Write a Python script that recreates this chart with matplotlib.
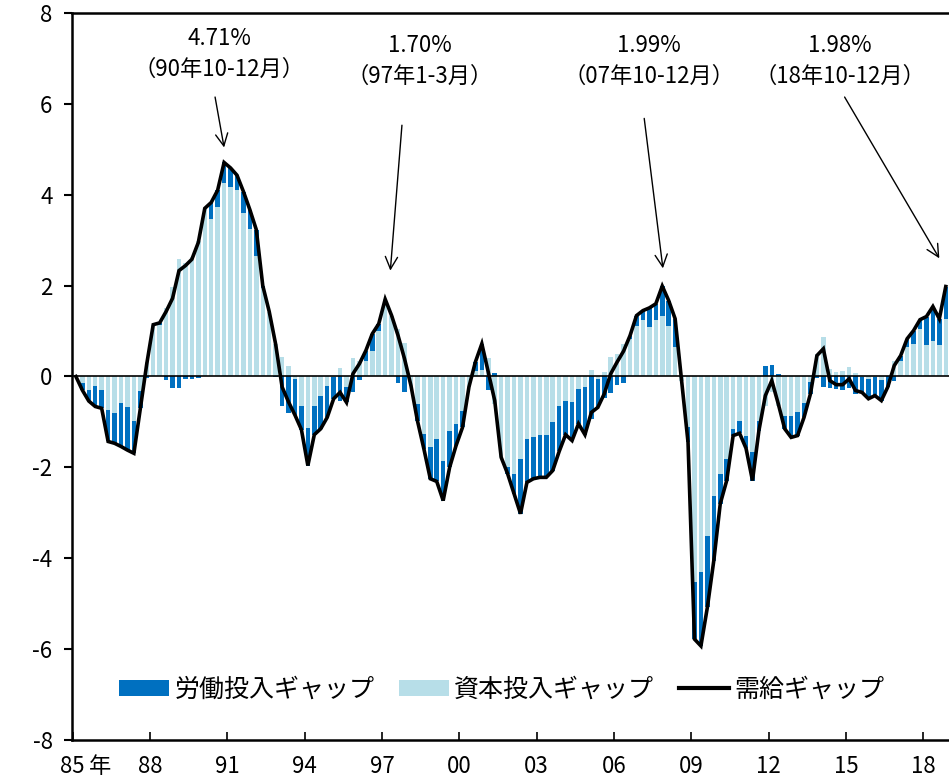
import matplotlib
matplotlib.use("Agg")
import matplotlib.pyplot as plt
from matplotlib.lines import Line2D
from matplotlib.patches import Patch
import numpy as np
import pandas as pd

plt.rcParams["font.family"] = ["Noto Sans CJK JP", "DejaVu Sans"]
plt.rcParams["axes.unicode_minus"] = False

# quarterly, 1985Q1 .. 2018Q4
quarters = pd.period_range("1985Q1", "2018Q4", freq="Q")

# 需給ギャップ (%)
output_gap = [
    0.00, -0.30, -0.54, -0.66, -0.70, -1.43, -1.47, -1.54, -1.62, -1.69,
    -0.70, 0.28, 1.14, 1.18, 1.43, 1.72, 2.33, 2.44, 2.58, 2.95,
    3.70, 3.83, 4.10, 4.71, 4.59, 4.43, 4.07, 3.67, 3.23, 2.00,
    1.43, 0.71, -0.23, -0.56, -0.85, -1.17, -1.96, -1.28, -1.15, -0.90,
    -0.49, -0.35, -0.57, 0.06, 0.28, 0.57, 0.94, 1.16, 1.70, 1.34,
    0.90, 0.39, -0.20, -0.97, -1.59, -2.25, -2.31, -2.73, -2.00, -1.52,
    -1.12, -0.23, 0.32, 0.72, 0.10, -0.53, -1.78, -2.14, -2.58, -3.02,
    -2.33, -2.25, -2.22, -2.22, -2.07, -1.65, -1.28, -1.41, -1.04, -1.28,
    -0.79, -0.68, -0.38, 0.06, 0.32, 0.56, 0.90, 1.34, 1.45, 1.51,
    1.60, 1.99, 1.67, 1.27, -0.10, -1.45, -5.78, -5.93, -5.08, -4.05,
    -2.80, -2.29, -1.30, -1.25, -1.58, -2.29, -1.19, -0.42, -0.09, -0.60,
    -1.15, -1.34, -1.30, -0.90, -0.38, 0.46, 0.61, -0.09, -0.18, -0.18,
    -0.05, -0.31, -0.35, -0.49, -0.42, -0.53, -0.23, 0.24, 0.46, 0.83,
    1.01, 1.25, 1.32, 1.54, 1.27, 1.98,
]

# 資本投入ギャップ
capital_gap = [
    0.00, -0.15, -0.29, -0.22, -0.29, -0.73, -0.81, -0.59, -0.68, -0.99,
    -0.33, 0.32, 1.14, 1.13, 1.50, 1.98, 2.59, 2.49, 2.63, 2.99,
    3.70, 3.47, 3.74, 4.25, 4.17, 4.10, 3.60, 3.24, 2.65, 1.94,
    1.43, 0.72, 0.42, 0.24, -0.05, -0.66, -1.13, -0.65, -0.42, -0.20,
    -0.02, 0.19, -0.23, 0.40, 0.35, 0.35, 0.57, 1.01, 1.70, 1.34,
    1.05, 0.74, -0.20, -0.60, -1.26, -1.56, -1.37, -1.85, -1.21, -1.04,
    -0.75, -0.23, 0.12, 0.15, 0.40, -0.60, -1.78, -1.99, -2.14, -1.81,
    -1.37, -1.34, -1.28, -1.28, -1.00, -0.65, -0.53, -0.57, -0.27, -0.23,
    0.15, -0.05, 0.10, 0.43, 0.50, 0.71, 0.83, 1.12, 1.25, 1.09,
    1.25, 1.33, 1.12, 0.66, -0.10, -1.12, -4.53, -4.31, -3.50, -2.62,
    -2.14, -1.81, -1.15, -0.97, -1.30, -1.67, -0.97, -0.64, -0.35, -0.66,
    -0.86, -0.86, -0.79, -0.59, -0.12, 0.50, 0.87, 0.17, 0.10, 0.11,
    0.20, 0.07, -0.02, -0.05, -0.02, -0.07, 0.00, 0.35, 0.35, 0.65,
    0.72, 1.05, 0.70, 0.79, 0.70, 1.27,
]

# 労働投入ギャップ
labor_gap = [
    0.00, -0.15, -0.25, -0.44, -0.41, -0.70, -0.66, -0.95, -0.94, -0.70,
    -0.37, -0.04, 0.00, 0.05, -0.07, -0.26, -0.26, -0.05, -0.05, -0.04,
    0.00, 0.36, 0.36, 0.46, 0.42, 0.33, 0.47, 0.43, 0.58, 0.06,
    0.00, -0.01, -0.65, -0.80, -0.80, -0.51, -0.83, -0.63, -0.73, -0.70,
    -0.47, -0.54, -0.34, -0.34, -0.07, 0.22, 0.37, 0.15, 0.00, 0.00,
    -0.15, -0.35, 0.00, -0.37, -0.33, -0.69, -0.94, -0.88, -0.79, -0.48,
    -0.37, 0.00, 0.20, 0.57, -0.30, 0.07, 0.00, -0.15, -0.44, -1.21,
    -0.96, -0.91, -0.94, -0.94, -1.07, -1.00, -0.75, -0.84, -0.77, -1.05,
    -0.94, -0.63, -0.48, -0.37, -0.18, -0.15, 0.07, 0.22, 0.20, 0.42,
    0.35, 0.66, 0.55, 0.61, 0.00, -0.33, -1.25, -1.62, -1.58, -1.43,
    -0.66, -0.48, -0.15, -0.28, -0.28, -0.62, -0.22, 0.22, 0.26, 0.06,
    -0.29, -0.48, -0.51, -0.31, -0.26, -0.04, -0.24, -0.26, -0.28, -0.29,
    -0.25, -0.38, -0.33, -0.44, -0.40, -0.46, -0.23, -0.11, 0.11, 0.18,
    0.29, 0.20, 0.62, 0.75, 0.57, 0.71,
]

tick_years = [1988, 1991, 1994, 1997, 2000, 2003, 2006, 2009, 2012, 2015, 2018]
tick_labels = ["88", "91", "94", "97", "00", "03", "06", "09", "12", "15", "18"]

peak_values = ["4.71%", "1.70%", "1.99%", "1.98%"]
peak_periods = ["（90年10-12月）", "（97年1-3月）", "（07年10-12月）", "（18年10-12月）"]

DARK = "#0070C0"
LIGHT = "#B7DEE8"


def stack_bars(ax, x, cap, lab):
    cap = np.asarray(cap)
    lab = np.asarray(lab)
    cap_pos = np.where(cap > 0, cap, 0)
    cap_neg = np.where(cap < 0, cap, 0)
    ax.bar(x, cap, width=0.7, color=LIGHT, zorder=2)
    lab_bottom = np.where(lab >= 0, cap_pos, cap_neg)
    ax.bar(x, lab, bottom=lab_bottom, width=0.7, color=DARK, zorder=2)


def main():
    fig = plt.figure(figsize=(9.49, 7.82), dpi=100)
    ax = fig.add_axes([0.0759, 0.0537, 0.9241, 0.9297])

    x = np.arange(len(quarters))
    stack_bars(ax, x, capital_gap, labor_gap)
    ax.axhline(0, color="black", lw=1.2, zorder=3)
    ax.plot(x, output_gap, color="black", lw=2.6, zorder=4, solid_joinstyle="miter")

    ax.set_xlim(-0.6, len(quarters) - 0.5)
    ax.set_ylim(-8, 8)
    ax.set_yticks(np.arange(-8, 9, 2))
    ax.tick_params(axis="y", direction="out", length=6, width=1.5, labelsize=16, pad=8)

    year_idx = [list(quarters.year).index(y) - 0.5 for y in tick_years]
    ax.set_xticks([-0.5] + year_idx)
    ax.set_xticklabels(["85"] + tick_labels)
    ax.tick_params(axis="x", direction="in", length=6, width=1.2, labelsize=16, pad=11)
    ax.annotate("年", xy=(3.8, 0), xycoords=("data", "axes fraction"),
                xytext=(0, -11), textcoords="offset points",
                ha="center", va="top", fontsize=16)

    ax.spines["right"].set_visible(False)
    for side in ["left", "bottom", "top"]:
        ax.spines[side].set_linewidth(1.8)

    # peak annotations
    text_pos = [(22.2, 7.44), (53.4, 7.29), (89.0, 7.29), (118.5, 7.29)]
    arrows = [
        ((21.6, 6.15), (23.0, 5.04)),
        ((50.6, 5.53), (48.8, 2.33)),
        ((88.2, 5.68), (91.1, 2.38)),
        ((119.3, 6.15), (134.0, 2.60)),
    ]
    for val, per, (tx, ty), (start, tip) in zip(peak_values, peak_periods, text_pos, arrows):
        ax.text(tx, ty, val, ha="center", va="center", fontsize=16)
        ax.text(tx, ty - 0.68, per, ha="center", va="center", fontsize=16)
        ax.annotate("", xy=tip, xytext=start,
                    arrowprops=dict(arrowstyle="->", color="black", lw=1.0,
                                    mutation_scale=22, shrinkA=0, shrinkB=0))

    handles = [
        Patch(facecolor=DARK, edgecolor="none"),
        Patch(facecolor=LIGHT, edgecolor="none"),
        Line2D([], [], color="black", lw=3),
    ]
    labels = ["労働投入ギャップ", "資本投入ギャップ", "需給ギャップ"]
    ax.legend(handles, labels, loc="center", bbox_to_anchor=(0.49, 0.069), ncol=3,
              frameon=False, fontsize=18, handlelength=2.0, handleheight=0.6,
              handletextpad=0.2, columnspacing=1.0)

    fig.savefig("out.png", dpi=100)
    plt.close(fig)


if __name__ == "__main__":
    main()
